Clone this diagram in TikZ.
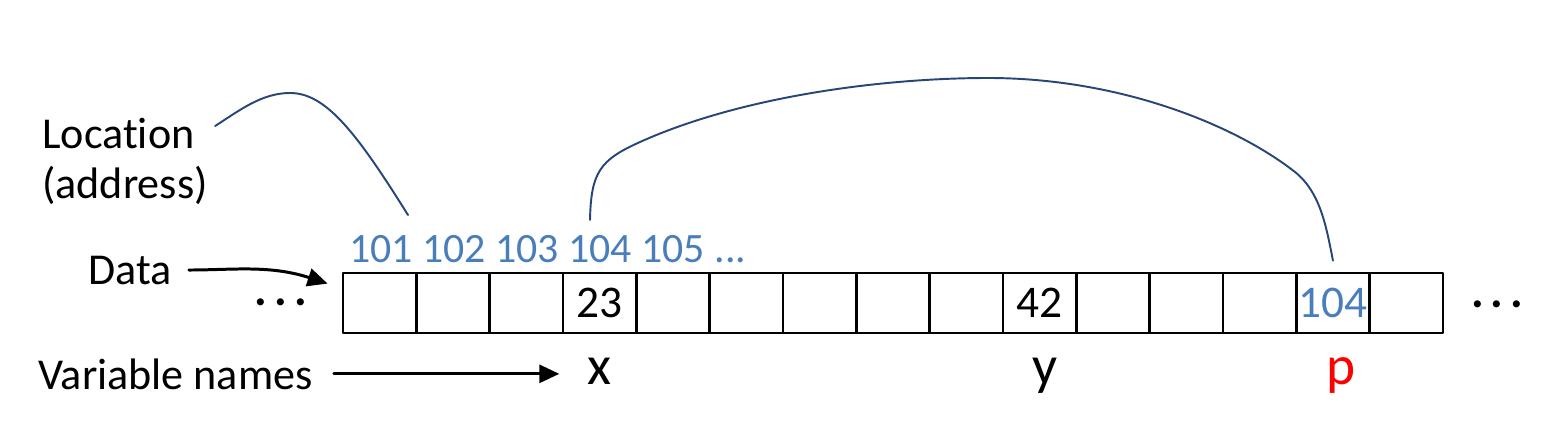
\documentclass[tikz,border=0pt]{standalone}
\usepackage{fontspec}
\setmainfont{Carlito}[Ligatures=NoCommon]
\usetikzlibrary{arrows.meta}
\usetikzlibrary{positioning}

\definecolor{addrblue}{RGB}{74,126,187}
\definecolor{linkblue}{RGB}{38,70,120}
\definecolor{namered}{RGB}{255,0,0}

\tikzset{
  cell/.style={draw,line width=1.6pt,minimum width=1.4667cm,minimum height=1.2cm,inner sep=0pt},
  lbl/.style={font=\fontsize{25.1}{28.5}\selectfont,inner sep=0pt},
  addr/.style={font=\fontsize{23.8}{28}\selectfont,text=addrblue,inner sep=0pt},
  val/.style={font=\fontsize{25.8}{30}\selectfont,inner sep=0pt},
  vname/.style={font=\fontsize{31.5}{36}\selectfont,inner sep=0pt},
  dots/.style={font=\fontsize{27}{30}\selectfont\bfseries,inner sep=0pt},
  link/.style={draw=linkblue,line width=1.1pt},
  tagarrow/.style={draw,line width=1.7pt,-{Triangle[length=0.4cm,width=0.36cm]}}
}
\newcommand{\threedots}{.\hspace{0.14cm}.\hspace{0.14cm}.}

\begin{document}
\begin{tikzpicture}[line cap=round,line join=round,x=0.02cm,y=0.02cm]
\useasboundingbox (0,0) rectangle (1551,440);
% memory cells
\foreach \i in {0,...,14}
  \node[cell] (c\i) at ({343+73.33*(\i+0.5)},137) {};
\node[val] (v23) at (c3) {23};
\node[val] (v42) at (c9) {42};
\node[val,text=addrblue] (v104) at (c13) {104};
% labels on the left
\node[lbl,anchor=north west,align=left] (loc) at (42,322) {Location\\(address)};
\node[lbl,anchor=base west] (data) at (88,156) {Data};
\node[lbl,anchor=base west] (vars) at (38,51) {Variable names};
\node[addr,anchor=base west] (addr) at (349,178) {101 102 103 104 105 ...};
\node[dots,anchor=base] (ldots) at (281,135) {\threedots};
\node[dots,anchor=base] (rdots) at (1497,133) {\threedots};
% variable names
\node[vname,anchor=base] (vx) at ([yshift=-1cm]c3.south) {x};
\node[vname,anchor=base,xshift=0.1cm] (vy) at ([yshift=-1cm]c9.south) {y};
\node[vname,anchor=base,xshift=0.16cm,text=namered] (vp) at ([yshift=-1cm]c13.south) {p};
% arrows
\draw[tagarrow,shorten <=0.34cm] (data.east) to[out=0,in=162] ([xshift=-0.28cm,yshift=-0.24cm]c0.north west);
\draw[tagarrow,shorten <=0.42cm,shorten >=0.56cm] (vars.east) -- (vars.east -| vx.west);
% pointer curves
\coordinate (a101) at (408,225);
\coordinate (a104) at (590,220);
\draw[link] ([shift={(7,-8)}]loc.north east) .. controls (240,330) and (262,347) .. (290,347)
  .. controls (325,347) and (355,310) .. (a101);
\draw[link] (a104) .. controls (591,268) and (600,280) .. (640,298)
  .. controls (740,343) and (880,362) .. (988,362)
  .. controls (1120,362) and (1235,315) .. (1295,268)
  .. controls (1320,248) and (1326,215) .. ([yshift=0.22cm]c13.north);
\end{tikzpicture}
\end{document}
